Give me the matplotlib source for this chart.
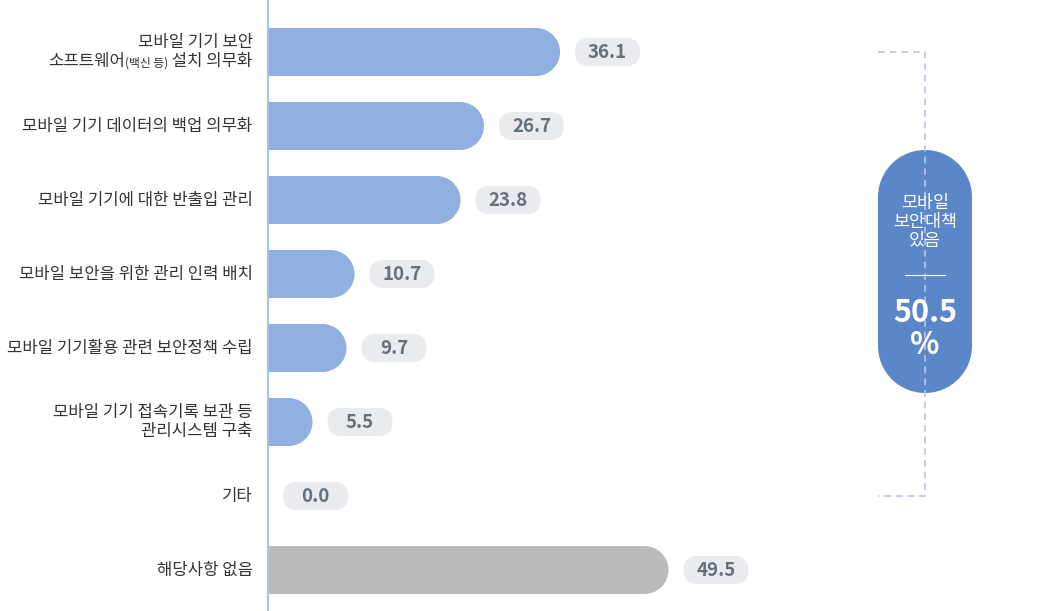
import numpy as np
import matplotlib
matplotlib.use("Agg")
import matplotlib.pyplot as plt
from matplotlib.patches import FancyBboxPatch, Ellipse, Rectangle
from matplotlib.offsetbox import TextArea, HPacker, VPacker, AnnotationBbox

plt.rcParams['font.family'] = ['Noto Sans CJK KR', 'DejaVu Sans']

# 데이터
categories = [
    "모바일 기기 보안\n소프트웨어(백신 등) 설치 의무화",
    "모바일 기기 데이터의 백업 의무화",
    "모바일 기기에 대한 반출입 관리",
    "모바일 보안을 위한 관리 인력 배치",
    "모바일 기기활용 관련 보안정책 수립",
    "모바일 기기 접속기록 보관 등\n관리시스템 구축",
    "기타",
    "해당사항 없음",
]
values = [36.1, 26.7, 23.8, 10.7, 9.7, 5.5, 0.0, 49.5]
summary_label = "모바일\n보안대책\n있음"
summary_value = 50.5

BLUE = "#8fb0e0"
GRAY = "#bababa"
PILL = "#e9ebee"
NUM = "#66717c"
DARK = "#5b87c9"
TXT = "#333333"

W, H = 1059, 611
fig = plt.figure(figsize=(W / 100, H / 100), dpi=100)
ax_left = 268
ax = fig.add_axes([ax_left / W, 0, 1 - ax_left / W, 1])
x_px = 8.09   # 1 % 당 픽셀
y_px = 74.0   # 항목 간격 픽셀
ax.set_xlim(0, (W - ax_left) / x_px)
ax.set_ylim((H - 52) / y_px, -52 / y_px)
ax.axis("off")
asp = x_px / y_px

bar_h = 48 / y_px
r = 24 / x_px
colors = [BLUE] * (len(values) - 1) + [GRAY]
ends = [max(v - r, 0) for v in values]
ax.barh(range(len(values)), ends, height=bar_h, color=colors, lw=0)
for i, v in enumerate(values):
    if v > 0:
        ax.add_patch(Ellipse((v - r, i), 2 * r, bar_h, fc=colors[i], ec="none"))
    # 값 라벨 (pill)
    pw, ph = 65 / x_px, 28 / y_px
    cx = v + (15 + 32.5) / x_px
    ax.add_patch(FancyBboxPatch((cx - pw / 2, i - ph / 2), pw, ph,
                                boxstyle=f"round,pad=0,rounding_size={14 / x_px}",
                                mutation_aspect=asp, fc=PILL, ec="none"))
    ax.text(cx, i, f"{v:.1f}", ha="center", va="center", fontsize=13.5,
            fontweight="bold", color=NUM)

# 항목 라벨
FS = 12
for i, lab in enumerate(categories):
    if i == 0:
        l1, l2 = lab.split("\n")
        tp = dict(fontsize=FS, color=TXT)
        row2 = HPacker(children=[
            TextArea("소프트웨어", textprops=tp),
            TextArea("(백신 등)", textprops=dict(fontsize=8.5, color=TXT)),
            TextArea(" 설치 의무화", textprops=tp)],
            align="baseline", pad=0, sep=0)
        box = VPacker(children=[TextArea(l1, textprops=tp), row2],
                      align="right", pad=0, sep=2)
        ab = AnnotationBbox(box, (0, i), xybox=(-11, 0), xycoords="data",
                            boxcoords="offset points", box_alignment=(1, 0.5),
                            frameon=False, annotation_clip=False)
        ax.add_artist(ab)
    else:
        ax.annotate(lab, xy=(0, i), xytext=(-11, 0), textcoords="offset points",
                    ha="right", va="center", fontsize=FS, color=TXT,
                    linespacing=1.2, annotation_clip=False)

# 축 선
ax.axvline(0, color="#a9c3e6", lw=1.5, clip_on=False)

# 오른쪽 요약 (보안대책 있음 = 항목 0~6)
bx0 = (878 - ax_left) / x_px
bx1 = (925 - ax_left) / x_px
n_sec = len(values) - 2
ax.plot([bx0, bx1, bx1, bx0], [0, 0, n_sec, n_sec], color="#b9c0e4",
        lw=1.2, ls=(0, (4, 3)))

sx0, sx1 = bx0, (972 - ax_left) / x_px
sy0, sy1 = (150 - 52) / y_px, (393 - 52) / y_px
rx = (sx1 - sx0) / 2
ry = rx * asp
cx = (sx0 + sx1) / 2
ax.add_patch(Rectangle((sx0, sy0 + ry), sx1 - sx0, sy1 - sy0 - 2 * ry, fc=DARK, ec="none"))
ax.add_patch(Ellipse((cx, sy0 + ry), 2 * rx, 2 * ry, fc=DARK, ec="none"))
ax.add_patch(Ellipse((cx, sy1 - ry), 2 * rx, 2 * ry, fc=DARK, ec="none"))

ax.text(cx, (222 - 52) / y_px, summary_label, ha="center", va="center",
        fontsize=12.5, color="white", linespacing=1.1)
lw_half = 20 / x_px
ax.plot([cx - lw_half, cx + lw_half], [(275 - 52) / y_px] * 2, color="white", lw=0.8)
ax.text(cx, (329 - 52) / y_px, f"{summary_value}\n%", ha="center", va="center",
        fontsize=22, fontweight="bold", color="white", linespacing=1.0)

fig.savefig("out.png", dpi=100)
